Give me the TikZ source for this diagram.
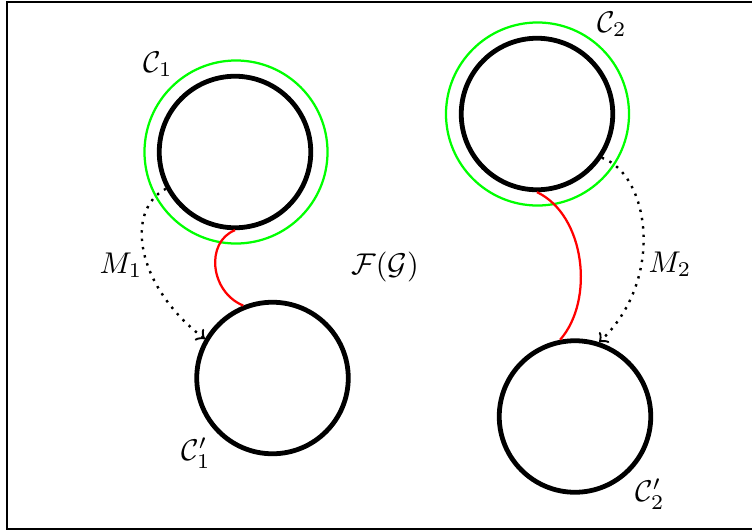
\documentclass[tikz,border=0pt]{standalone}
\usetikzlibrary{arrows}
\begin{document}
\begin{tikzpicture}[x=0.3333pt,y=-0.3333pt,
  comp/.style={circle,draw=black,line width=1.6pt,minimum size=50.5pt,inner sep=0pt},
  halo/.style={circle,draw=green,line width=0.75pt,minimum size=61pt,inner sep=0pt},
  link/.style={draw=red,line width=0.75pt},
  morph/.style={thick,dotted,->},
  lab/.style={inner sep=0pt}]
\useasboundingbox (0,0) rectangle (752,531);
\clip (0,0) rectangle (752,531);
\draw[line width=0.85pt] (7,2) rectangle (770,529);
% circles
\node[halo] (G1) at (236,152) {};
\node[comp] (C1) at (235,152) {};
\node[halo] (G2) at (537.5,114) {};
\node[comp] (C2) at (537,114) {};
\node[comp] (D1) at (272.5,378) {};
\node[comp] (D2) at (575,416.5) {};
% red links
\draw[link] (C1.south) .. controls (205,242) and (210,292) .. (D1.112);
\draw[link] (C2.south) .. controls (585,215) and (595,300) .. (D2.101);
% dotted morphisms
\draw[morph] (C1.208) .. controls (125,210) and (135,285) .. (D1.150);
\draw[morph] (C2.-34) .. controls (650,175) and (665,280) .. (D2.72);
% labels
\node[lab] (L1) at (158,64) {$\mathcal{C}_1$};
\node[lab] (L1p) at (196,453) {$\mathcal{C}_1'$};
\node[lab] (L2) at (612,24) {$\mathcal{C}_2$};
\node[lab] (L2p) at (650,494) {$\mathcal{C}_2'$};
\node[lab] (F) at (385,267) {$\mathcal{F}(\mathcal{G})$};
\node[lab] (M1) at (121,265) {$M_1$};
\node[lab] (M2) at (670,264) {$M_2$};
\end{tikzpicture}
\end{document}
